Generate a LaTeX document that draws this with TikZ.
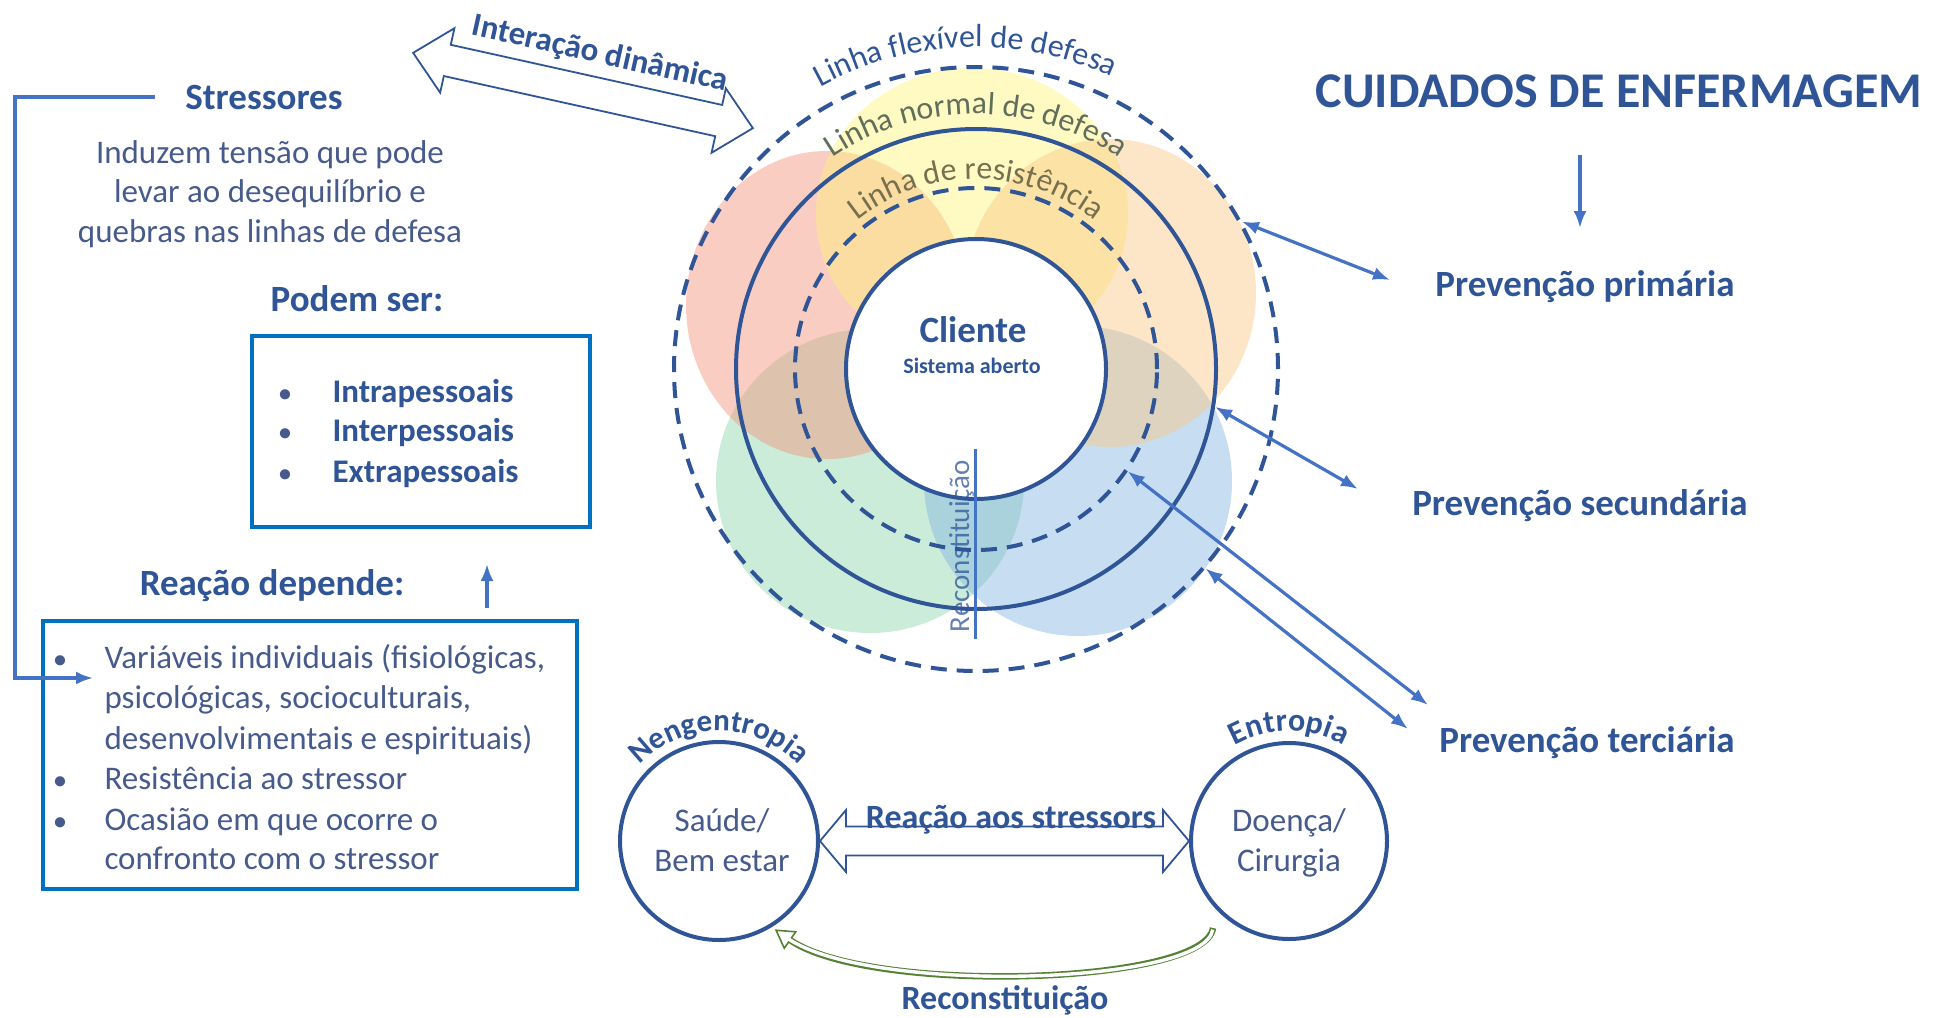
\documentclass[tikz,border=0pt]{standalone}
\usepackage{fontspec}
\setmainfont{Carlito}
\usetikzlibrary{arrows.meta,decorations.text,calc}
\definecolor{navy}{RGB}{47,85,151}
\definecolor{bodyc}{RGB}{70,90,140}
\definecolor{linkc}{RGB}{68,114,196}
\definecolor{boxc}{RGB}{0,112,192}
\definecolor{normc}{RGB}{96,110,92}
\definecolor{resc}{RGB}{118,112,78}
\definecolor{grnc}{RGB}{84,130,53}
\definecolor{fred}{RGB}{245,145,122}
\definecolor{fyel}{RGB}{255,242,120}
\definecolor{forg}{RGB}{250,200,130}
\definecolor{fgrn}{RGB}{140,212,170}
\definecolor{fblu}{RGB}{130,180,225}
\begin{document}
\begin{tikzpicture}[x=1pt,y=1pt,
  hd/.style={text=navy,font=\bfseries\fontsize{#1}{#1}\selectfont},
  hd/.default=37,
  bd/.style={text=bodyc,font=\fontsize{33}{33}\selectfont},
  ring/.style={circle,draw=navy,line width=4pt,inner sep=0pt},
  dring/.style={ring,dash pattern=on 16pt off 10pt},
  link/.style={draw=linkc,line width=3.2pt},
  tipL/.style={-{Latex[length=17pt,width=13pt]}},
  tipLL/.style={{Latex[length=17pt,width=13pt]}-{Latex[length=17pt,width=13pt]}},
  boxst/.style={draw=boxc,line width=3.5pt,inner sep=0pt},
  blk/.style={draw=navy,line width=1.8pt,fill=white,line join=miter},
  bul/.style={text=bodyc,font=\bfseries\fontsize{24}{24}\selectfont,anchor=base},
  itemb/.style={text=navy,font=\bfseries\fontsize{33}{33}\selectfont,anchor=base west},
  itemr/.style={text=bodyc,font=\fontsize{33}{33}\selectfont,anchor=base west},
]
\useasboundingbox (0,0) rectangle (1945,-1017);
\coordinate (ctr) at (976,-369);

% overlapping coloured fields behind the rings
\begin{scope}[fill opacity=.45]
\fill[fgrn] (870,-481) ellipse [x radius=154, y radius=152];
\fill[fblu] (1078,-481) ellipse [x radius=154, y radius=155];
\fill[fred] (827,-305) ellipse [x radius=141, y radius=154];
\fill[fyel] (972,-214) ellipse [x radius=156, y radius=146];
\fill[forg] (1110,-293) ellipse [x radius=146, y radius=154];
\end{scope}

% lines of defence and the client core
\node[dring, minimum size=604pt] (flex) at (ctr) {};
\node[ring, minimum size=480pt] (norm) at (ctr) {};
\node[dring, minimum size=362pt] (res) at (ctr) {};
\node[ring, fill=white, minimum size=260pt] (cli) at (ctr) {};

\path[decorate,decoration={text along path,text align=center,
  text={|\fontsize{32}{32}\selectfont\color{navy}|Linha flexível de defesa}}]
  ($(ctr)+(152:322)$) arc[start angle=152,end angle=32,radius=322];
\path[decorate,decoration={text along path,text align=center,
  text={|\fontsize{32}{32}\selectfont\color{normc}|Linha normal de defesa}}]
  ($(ctr)+(160:255)$) arc[start angle=160,end angle=20,radius=255];
\path[decorate,decoration={text along path,text align=center,
  text={|\fontsize{32}{32}\selectfont\color{resc}|Linha de resistência}}]
  ($(ctr)+(170:190)$) arc[start angle=170,end angle=10,radius=190];

\node[hd, anchor=base] (clit) at (973,-342) {Cliente};
\node[hd=22, anchor=base] (sist) at (972,-373) {Sistema aberto};

% reconstitution marker
\coordinate (rt) at (975,-449);
\coordinate (rb) at (975,-639);
\draw[linkc, line width=3pt] (rt) -- (rb);
\node[text=navy, text opacity=.75, font=\fontsize{29}{29}\selectfont, rotate=90, anchor=base] (recv) at (969,-546) {Reconstituição};

% nursing care and prevention levels
\node[hd=50, anchor=base] (title) at (1619,-107) {CUIDADOS DE ENFERMAGEM};
\coordinate (ta) at (1580,-155);
\coordinate (tb) at (1580,-228);
\draw[link, tipL] (ta) -- (tb);

\node[hd, anchor=base] (prim) at (1585,-296) {Prevenção primária};
\node[hd, anchor=base] (sec) at (1580,-515) {Prevenção secundária};
\node[hd, anchor=base] (ter) at (1587,-752) {Prevenção terciária};
\coordinate (pa) at (1390,-280);
\coordinate (sa) at (1358,-489);
\coordinate (tA) at (1428,-705);
\coordinate (tB) at (1408,-729);
\draw[link, tipLL] (flex.29) -- (pa);
\draw[link, tipLL] (norm.-9) -- (sa);
\draw[link, tipLL] (res.-34) -- (tA);
\draw[link, tipLL] (flex.-41) -- (tB);

% stressors
\node[hd, anchor=base] (stress) at (264,-109) {Stressores};
\node[bd, anchor=base] (ind1) at (270,-163) {Induzem tensão que pode};
\node[bd, anchor=base] (ind2) at (270,-202) {levar ao desequilíbrio e};
\node[bd, anchor=base] (ind3) at (270,-242) {quebras nas linhas de defesa};
\node[hd, anchor=base] (podem) at (357,-311) {Podem ser:};
\node[boxst, minimum width=338pt, minimum height=191pt] (box1) at (421,-431.5) {};
\node[bul] (b1) at (285,-401) {•};
\node[bul] (b2) at (285,-440) {•};
\node[bul] (b3) at (285,-481) {•};
\node[itemb] (it1) at (329,-402) {Intrapessoais};
\node[itemb] (it2) at (329,-441) {Interpessoais};
\node[itemb] (it3) at (329,-482) {Extrapessoais};

\node[hd, anchor=base] (reac) at (272,-595) {Reação depende:};
\coordinate (ua) at (487,-608);
\coordinate (ub) at (487,-564);
\draw[link, tipL] (ua) -- (ub);

\node[boxst, minimum width=534pt, minimum height=268pt] (box2) at (310,-755) {};
\node[bul] (c1) at (60,-667) {•};
\node[bul] (c4) at (60,-788) {•};
\node[bul] (c5) at (60,-829) {•};
\node[itemr] (v1) at (101,-668) {Variáveis individuais (fisiológicas,};
\node[itemr] (v2) at (101,-708) {psicológicas, socioculturais,};
\node[itemr] (v3) at (101,-749) {desenvolvimentais e espirituais)};
\node[itemr] (v4) at (101,-789) {Resistência ao stressor};
\node[itemr] (v5) at (101,-830) {Ocasião em que ocorre o};
\node[itemr] (v6) at (101,-869) {confronto com o stressor};

\coordinate (s0) at (155,-97);
\coordinate (s1) at (15,-97);
\coordinate (s2) at (93,-678);
\draw[link, tipL] (s0) -- (s1) |- (s2);

% dynamic interaction block arrow
\begin{scope}[shift={(583,-90.5)}, rotate=-12.5]
\draw[blk] (-174,0) -- (-139,33) -- (-139,16) -- (139,16) -- (139,33) -- (174,0)
  -- (139,-33) -- (139,-16) -- (-139,-16) -- (-139,-33) -- cycle;
\node[hd=33, rotate=-12.5, anchor=base] (inter) at (9,30) {Interação dinâmica};
\end{scope}

% health and illness states
\node[ring, minimum size=198pt] (saude) at (719,-841) {};
\node[ring, minimum size=196pt] (doenca) at (1289,-841) {};
\node[bd, anchor=base] (sa1) at (722,-831) {Saúde/};
\node[bd, anchor=base] (sa2) at (722,-871) {Bem estar};
\node[bd, anchor=base] (do1) at (1289,-831) {Doença/};
\node[bd, anchor=base] (do2) at (1289,-871) {Cirurgia};
\path[decorate,decoration={text along path,text align=center,
  text={|\bfseries\fontsize{31}{31}\selectfont\color{navy}|Nengentropia}}]
  ($(saude.center)+(175:110)$) arc[start angle=175,end angle=5,radius=110];
\path[decorate,decoration={text along path,text align=center,
  text={|\bfseries\fontsize{32}{32}\selectfont\color{navy}|Entropia}}]
  ($(doenca.center)+(175:110)$) arc[start angle=175,end angle=5,radius=110];

\draw[blk] (saude.east) -- ++(26,31) -- ++(0,-16.5) -- ($(doenca.west)+(-26,14.5)$)
  -- ++(0,16.5) -- (doenca.west) -- ++(-26,-31) -- ++(0,16.5)
  -- ($(saude.east)+(26,-14.5)$) -- ++(0,-16.5) -- cycle;
\node[hd=34, anchor=base] (rstr) at (1011,-828) {Reação aos stressors};

% reconstitution return arrow
\coordinate (gS) at (1213,-928);
\coordinate (gE) at (790,-940);
\begin{scope}[shift={(gE)}, rotate=145]
\draw[grnc, line width=1.6pt, fill=white, line join=miter] (0,10) -- (17,0) -- (0,-10) -- cycle;
\end{scope}
\draw[grnc, line width=6.5pt] (gS) .. controls (1205,-985) and (870,-995) .. (gE);
\draw[white, line width=3.4pt, shorten <=1.6pt, shorten >=-3pt] (gS) .. controls (1205,-985) and (870,-995) .. (gE);
\node[hd=34, anchor=base] (recb) at (1005,-1009) {Reconstituição};
\end{tikzpicture}
\end{document}
